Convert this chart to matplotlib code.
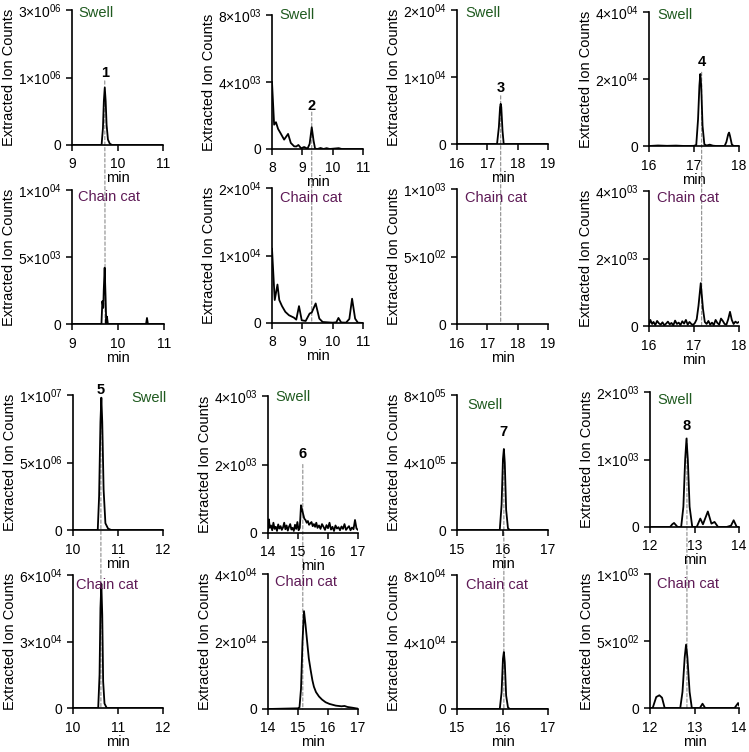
import matplotlib
matplotlib.use("Agg")
import matplotlib.pyplot as plt
import numpy as np
from matplotlib.patches import ConnectionPatch

plt.rcParams["font.family"] = ["Liberation Sans", "DejaVu Sans"]
plt.rcParams["mathtext.fontset"] = "custom"
plt.rcParams["mathtext.rm"] = "Liberation Sans"
plt.rcParams["mathtext.it"] = "Liberation Sans:italic"
plt.rcParams["mathtext.bf"] = "Liberation Sans:bold"

# ---- data (retention time in min, extracted ion counts) ----
# compound 1
t1_swell = [9.0, 9.6, 9.65, 9.68, 9.70, 9.72, 9.74, 9.76, 9.79, 9.83, 9.88, 11.0]
y1_swell = [0, 0, 0, 2.5e5, 6.5e5, 8.5e5, 6.5e5, 3e5, 8e4, 2e4, 0, 0]
t1_chain = [9.0, 9.64, 9.66, 9.68, 9.69, 9.71, 9.73, 9.745, 9.76, 9.78, 10.61, 10.63, 10.65, 11.0]
y1_chain = [0, 0, 1700, 1200, 2500, 4200, 2000, 0, 550, 0, 0, 450, 0, 0]

# compound 2
t2_swell = [8.0, 8.07, 8.13, 8.2, 8.28, 8.4, 8.53, 8.62, 8.73, 8.8, 8.87, 8.96, 9.06, 9.17,
            9.24, 9.31, 9.37, 9.42, 9.5, 9.6, 9.7, 9.8, 9.9, 10.2, 10.3, 11.0]
y2_swell = [4000, 1450, 1600, 1200, 950, 560, 900, 360, 160, 150, 240, 40, 120, 20,
            300, 1300, 500, 20, 0, 60, 0, 50, 0, 50, 0, 0]
t2_chain = [8.0, 8.09, 8.18, 8.24, 8.33, 8.44, 8.56, 8.72, 8.8, 8.89, 8.98, 9.11, 9.24, 9.31,
            9.44, 9.56, 9.67, 10.0, 10.12, 10.19, 10.28, 10.44, 10.55, 10.64, 10.74, 10.83, 11.0]
y2_chain = [11000, 3400, 5700, 3400, 2500, 1650, 1150, 800, 500, 2500, 400, 300, 1400, 1550,
            2900, 650, 150, 50, 100, 750, 80, 50, 600, 3600, 650, 50, 0]

# compound 3
t3_swell = [16.0, 17.32, 17.38, 17.42, 17.44, 17.46, 17.5, 17.54, 19.0]
y3_swell = [0, 0, 2500, 5500, 6000, 5500, 2000, 0, 0]
t3_chain = []
y3_chain = []

# compound 4
t4_swell = [16.0, 16.2, 16.4, 16.6, 16.8, 17.0, 17.05, 17.09, 17.12, 17.14, 17.16, 17.19,
            17.23, 17.28, 17.35, 17.42, 17.5, 17.68, 17.72, 17.76, 17.78, 17.8, 17.84, 17.88, 18.0]
y4_swell = [0, 150, 50, 120, 0, 50, 300, 8000, 18000, 21500, 18000, 6000,
            500, 150, 400, 100, 0, 0, 1200, 3500, 4000, 3000, 500, 0, 0]
t4_chain = [16.0, 16.03, 16.07, 16.1, 16.14, 16.18, 16.22, 16.26, 16.3, 16.34, 16.38, 16.42,
            16.46, 16.5, 16.54, 16.58, 16.62, 16.66, 16.7, 16.74, 16.78, 16.82, 16.86, 16.9,
            16.94, 16.98, 17.02, 17.06, 17.1, 17.15, 17.2, 17.24, 17.28, 17.32, 17.36, 17.4,
            17.44, 17.48, 17.52, 17.56, 17.6, 17.64, 17.68, 17.72, 17.76, 17.8, 17.84, 17.88,
            17.92, 17.96, 18.0]
y4_chain = [40, 180, 60, 120, 30, 150, 80, 40, 110, 20, 70, 130,
            50, 90, 20, 160, 60, 100, 30, 140, 70, 180, 40, 120,
            60, 30, 90, 200, 600, 1270, 500, 120, 60, 150, 40, 100,
            30, 180, 90, 40, 220, 150, 60, 40, 200, 420, 180, 60,
            130, 90, 120]

# compound 5
t5_swell = [10.0, 10.5, 10.55, 10.58, 10.61, 10.63, 10.65, 10.68, 10.72, 10.78, 10.85, 12.0]
y5_swell = [0, 0, 0, 2.5e6, 8e6, 9.8e6, 8e6, 3e6, 5e5, 1e5, 0, 0]
t5_chain = [10.0, 10.5, 10.56, 10.59, 10.61, 10.63, 10.65, 10.67, 10.7, 10.75, 12.0]
y5_chain = [0, 0, 0, 1.5e4, 4.5e4, 5.6e4, 4.2e4, 1.2e4, 2e3, 0, 0]

# compound 6
t6_swell = [14.0, 14.03, 14.06, 14.1, 14.14, 14.18, 14.22, 14.26, 14.3, 14.34, 14.38, 14.42,
            14.46, 14.5, 14.54, 14.58, 14.62, 14.66, 14.7, 14.74, 14.78, 14.82, 14.86, 14.9,
            14.94, 14.98, 15.02, 15.06, 15.1, 15.13, 15.17, 15.21, 15.25, 15.29, 15.33, 15.37,
            15.41, 15.45, 15.49, 15.53, 15.57, 15.61, 15.65, 15.7, 15.75, 15.8, 15.85, 15.9,
            15.95, 16.0, 16.05, 16.1, 16.15, 16.2, 16.25, 16.3, 16.35, 16.4, 16.45, 16.5,
            16.55, 16.6, 16.65, 16.7, 16.75, 16.8, 16.85, 16.9, 16.95, 17.0]
y6_swell = [100, 400, 150, 220, 80, 300, 120, 180, 60, 250, 130, 200,
            90, 160, 300, 110, 220, 70, 180, 260, 100, 150, 60, 240,
            120, 320, 80, 150, 810, 700, 560, 420, 380, 300, 350, 240,
            280, 320, 200, 260, 180, 300, 150, 220, 120, 260, 180, 90,
            230, 140, 300, 100, 180, 60, 220, 130, 170, 80, 190, 120,
            260, 90, 150, 200, 80, 160, 110, 380, 130, 90]
t6_chain = [14.0, 14.5, 15.0, 15.05, 15.1, 15.15, 15.2, 15.25, 15.31, 15.36, 15.42, 15.48,
            15.53, 15.6, 15.7, 15.8, 15.92, 16.05, 16.26, 16.45, 16.55, 16.65, 16.8, 16.93, 17.0]
y6_chain = [0, 100, 200, 500, 6000, 20000, 29000, 25000, 19500, 15000, 11600, 8500,
            6600, 5000, 3700, 2800, 2000, 1500, 1000, 800, 900, 600, 400, 200, 100]

# compound 7
t7_swell = [15.0, 15.9, 15.94, 15.98, 16.01, 16.03, 16.05, 16.08, 16.12, 16.16, 17.0]
y7_swell = [0, 0, 0, 1.5e5, 4.2e5, 4.8e5, 4.0e5, 1.2e5, 1e4, 0, 0]
t7_chain = [15.0, 15.9, 15.94, 15.98, 16.01, 16.03, 16.05, 16.08, 16.12, 16.16, 17.0]
y7_chain = [0, 0, 0, 1.0e4, 3.0e4, 3.4e4, 2.8e4, 8e3, 1e3, 0, 0]

# compound 8
t8_swell = [12.0, 12.45, 12.5, 12.54, 12.58, 12.62, 12.7, 12.75, 12.79, 12.82, 12.85, 12.89,
            12.95, 13.05, 13.13, 13.19, 13.3, 13.38, 13.45, 13.53, 13.72, 13.82, 13.88, 13.95, 14.0]
y8_swell = [0, 0, 40, 60, 30, 0, 0, 300, 1000, 1310, 1000, 300,
            0, 0, 125, 40, 230, 50, 75, 0, 0, 20, 100, 0, 0]
t8_chain = [12.0, 12.06, 12.14, 12.21, 12.27, 12.33, 12.68, 12.73, 12.78, 12.81, 12.84, 12.89,
            12.94, 13.12, 13.18, 13.24, 13.9, 13.98, 14.0]
y8_chain = [0, 0, 82, 95, 77, 0, 0, 120, 380, 473, 380, 120,
            0, 0, 32, 0, 0, 37, 20]

x_ranges = [(9, 11), (8, 11), (16, 19), (16, 18), (10, 12), (14, 17), (15, 17), (12, 14)]
swell_yticks = [[0, 1e6, 3e6], [0, 4e3, 8e3], [0, 1e4, 2e4], [0, 2e4, 4e4],
                [0, 5e6, 1e7], [0, 2e3, 4e3], [0, 4e5, 8e5], [0, 1e3, 2e3]]
chain_yticks = [[0, 5e3, 1e4], [0, 1e4, 2e4], [0, 5e2, 1e3], [0, 2e3, 4e3],
                [0, 3e4, 6e4], [0, 2e4, 4e4], [0, 4e4, 8e4], [0, 5e2, 1e3]]
peak_times = [9.72, 9.31, 17.44, 17.17, 10.62, 15.16, 16.03, 12.83]
peak_label_y = [1.12e6, 2.55e3, 8.3e3, 2.5e4, 1.04e7, 2.3e3, 5.8e5, 1.49e3]
dash_top = [0.95e6, 2.2e3, 7.2e3, 2.2e4, 9.8e6, 2.0e3, 4.8e5, 1.32e3]

swell_data = [(t1_swell, y1_swell), (t2_swell, y2_swell), (t3_swell, y3_swell), (t4_swell, y4_swell),
              (t5_swell, y5_swell), (t6_swell, y6_swell), (t7_swell, y7_swell), (t8_swell, y8_swell)]
chain_data = [(t1_chain, y1_chain), (t2_chain, y2_chain), (t3_chain, y3_chain), (t4_chain, y4_chain),
              (t5_chain, y5_chain), (t6_chain, y6_chain), (t7_chain, y7_chain), (t8_chain, y8_chain)]

# ---- layout in pixels: (left, right, top, bottom) ----
W, H = 749, 752
swell_boxes = [(72, 163, 10, 145), (272, 363, 15, 149), (457, 548, 10, 144), (649, 739, 12, 146),
               (73, 163, 395, 530), (268, 358, 396, 533), (457, 548, 395, 530), (650, 739, 392, 527)]
chain_boxes = [(72, 164, 190, 324), (272, 363, 188, 323), (457, 548, 189, 324), (649, 739, 191, 326),
               (73, 163, 575, 708), (268, 358, 574, 709), (457, 548, 575, 709), (650, 739, 574, 708)]
# name label offsets from the top-left corner of each axes (px)
swell_txt = [(6, 3), (7, 0), (8, 3), (8, 3), (58, 3), (7, 1), (10, 10), (7, 8)]
chain_txt = [(6, 7), (8, 10), (8, 9), (8, 7), (3, 10), (7, 8), (9, 10), (7, 10)]

GREEN = "#1f5a1f"
PURPLE = "#5e1a56"


def sci_label(v):
    if v == 0:
        return "0"
    exp = 0
    m = v
    while m >= 10:
        m /= 10
        exp += 1
    return r"$\mathregular{%d{\times}10^{%02d}}$" % (round(m), exp)


# the upper half of the first swell axis is compressed (1e6 sits mid-axis)
def split_fwd(y):
    y = np.asarray(y, dtype=float)
    return np.where(y <= 1e6, y, 1e6 + (y - 1e6) / 2)


def split_inv(z):
    z = np.asarray(z, dtype=float)
    return np.where(z <= 1e6, z, 1e6 + (z - 1e6) * 2)


fig = plt.figure(figsize=(W / 100, H / 100), dpi=100)


def make_axes(box, xr, yticks, name, color, txt_off, t, y, split=False):
    l, r, top, bot = box
    ax = fig.add_axes([l / W, 1 - bot / H, (r - l) / W, (bot - top) / H])
    ax.set_facecolor("none")
    if split:
        ax.set_yscale("function", functions=(split_fwd, split_inv))
    if len(t):
        ax.plot(t, y, color="black", lw=1.3, solid_joinstyle="round")
    ax.set_xlim(*xr)
    ax.set_ylim(0, yticks[-1])
    ax.spines["top"].set_visible(False)
    ax.spines["right"].set_visible(False)
    ax.spines["left"].set_linewidth(1.2)
    ax.spines["bottom"].set_linewidth(1.2)
    ax.set_xticks(range(xr[0], xr[1] + 1))
    ax.set_yticks(yticks)
    ax.set_yticklabels([sci_label(v) for v in yticks])
    ax.yaxis.set_minor_locator(plt.NullLocator())
    ax.tick_params(direction="out", length=4.5, width=1.1, labelsize=10)
    ax.tick_params(axis="x", pad=4.5)
    ax.tick_params(axis="y", pad=3)
    ax.set_xlabel("min", fontsize=10.5, labelpad=0)
    ax.set_ylabel("Extracted Ion Counts", fontsize=10.5)
    ax.yaxis.set_label_coords(-56 / (r - l), 0.5)
    ax.text(txt_off[0] / (r - l), 1 - txt_off[1] / (bot - top), name, transform=ax.transAxes,
            color=color, fontsize=10.5, ha="left", va="center")
    return ax


for i in range(8):
    axs = make_axes(swell_boxes[i], x_ranges[i], swell_yticks[i], "Swell", GREEN, swell_txt[i],
                    *swell_data[i], split=(i == 0))
    axc = make_axes(chain_boxes[i], x_ranges[i], chain_yticks[i], "Chain cat", PURPLE, chain_txt[i],
                    *chain_data[i])
    axs.text(peak_times[i], peak_label_y[i], str(i + 1), fontsize=10.5, fontweight="bold",
             ha="center", va="center", clip_on=False)
    con = ConnectionPatch(xyA=(peak_times[i], dash_top[i]), coordsA="data", axesA=axs,
                          xyB=(peak_times[i], 0), coordsB="data", axesB=axc,
                          color="#8c8c8c", lw=0.8, linestyle=(0, (3, 2)), zorder=-1)
    fig.add_artist(con)

fig.savefig("out.png", dpi=100)
